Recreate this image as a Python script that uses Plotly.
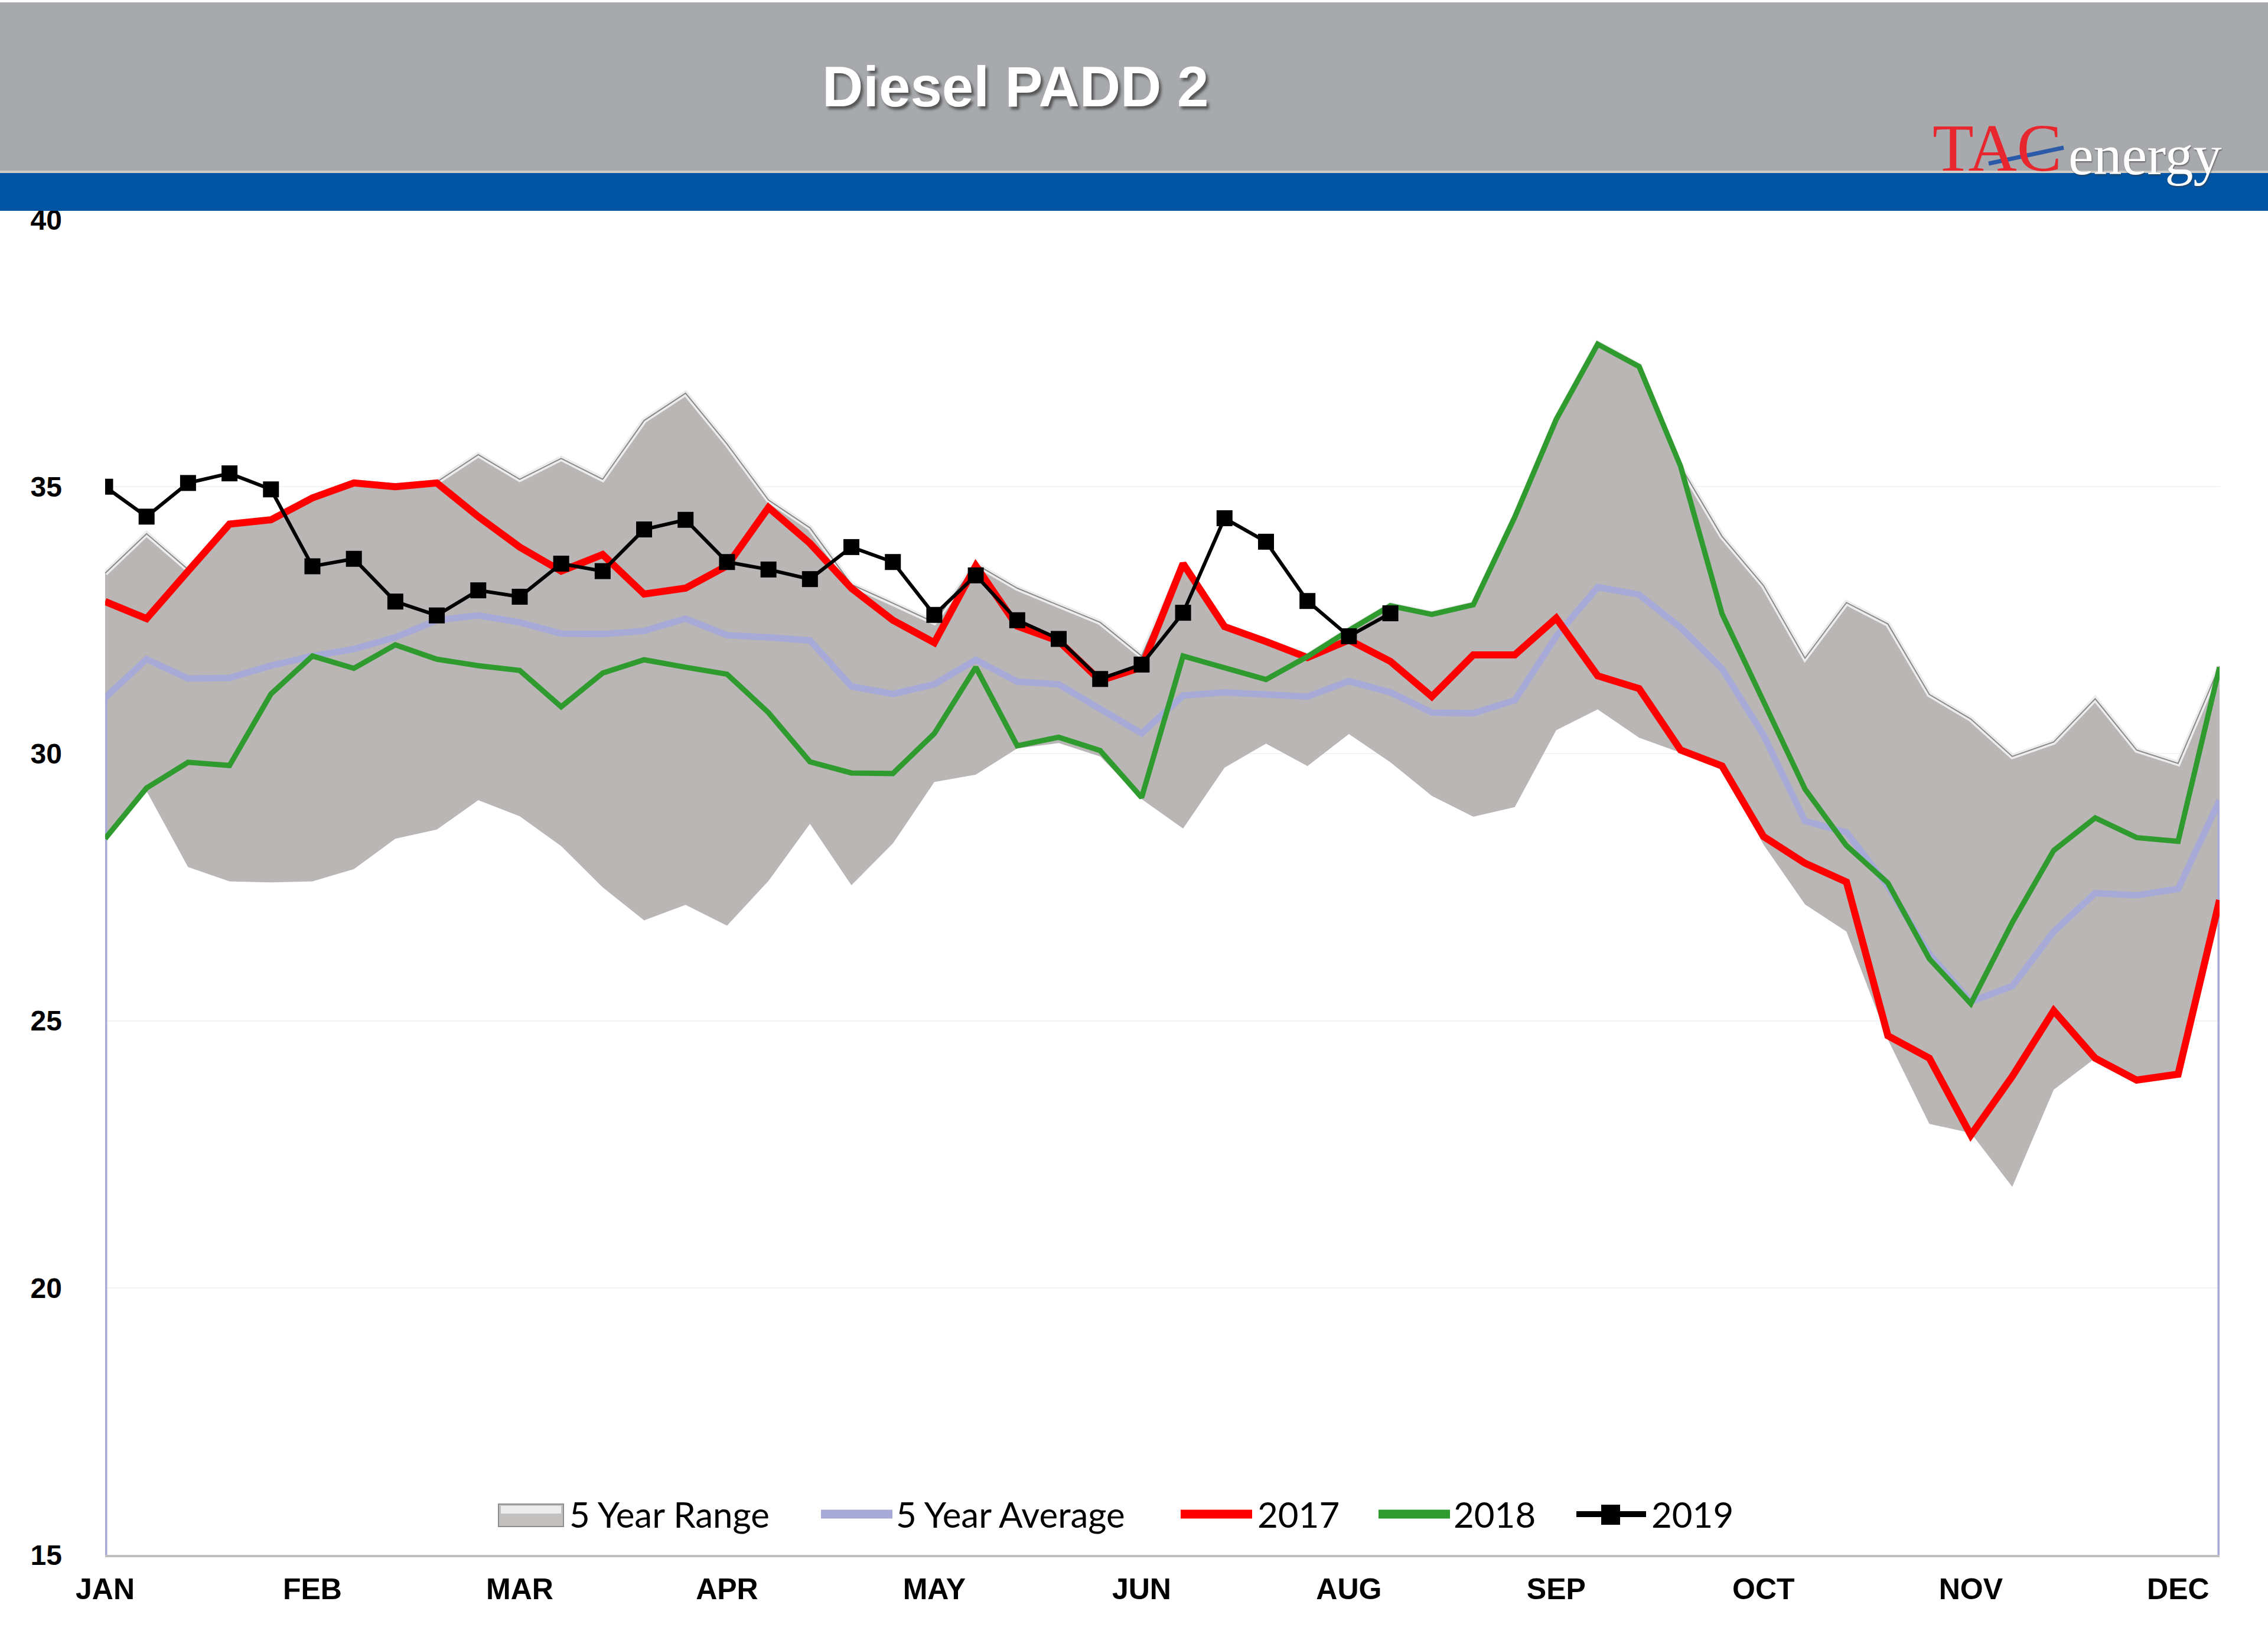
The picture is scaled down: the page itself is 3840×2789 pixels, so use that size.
"""Diesel PADD 2 seasonal chart (TAC energy style)."""

import plotly.graph_objects as go

# ---- data -----------------------------------------------------------------
WEEKS = list(range(52))
TICK_WEEKS = [0, 5, 10, 15, 20, 25, 30, 35, 40, 45, 50]
TICK_LABELS = ["JAN", "FEB", "MAR", "APR", "MAY", "JUN", "AUG", "SEP", "OCT", "NOV", "DEC"]
Y_TICKS = [15, 20, 25, 30, 35, 40]

range_low = [
    28.41, 29.30, 27.88, 27.61, 27.59, 27.61, 27.84, 28.41, 28.58, 29.13,
    28.83, 28.27, 27.50, 26.88, 27.17, 26.78, 27.62, 28.69, 27.54, 28.32,
    29.47, 29.61, 30.10, 30.20, 29.95, 29.15, 28.60, 29.74, 30.19, 29.77,
    30.37, 29.84, 29.21, 28.82, 29.00, 30.44, 30.83, 30.30, 30.02, 29.75,
    28.30, 27.18, 26.67, 24.65, 23.07, 22.90, 21.89, 23.71, 24.30, 23.89,
    24.00, 27.26,
]
range_high = [
    33.38, 34.12, 33.45, 34.32, 34.40, 34.81, 35.09, 35.02, 35.09, 35.60,
    35.14, 35.53, 35.14, 36.24, 36.75, 35.80, 34.75, 34.23, 33.17, 32.82,
    32.46, 33.55, 33.10, 32.78, 32.46, 31.83, 33.58, 32.40, 32.12, 31.84,
    32.33, 32.79, 32.63, 32.81, 34.45, 36.28, 37.69, 37.27, 35.38, 34.07,
    33.15, 31.79, 32.83, 32.43, 31.11, 30.65, 29.95, 30.22, 31.03, 30.07,
    29.82, 31.64,
]
avg_5yr = [
    31.05, 31.77, 31.41, 31.42, 31.65, 31.83, 31.96, 32.18, 32.50, 32.59,
    32.46, 32.25, 32.24, 32.30, 32.53, 32.22, 32.18, 32.12, 31.26, 31.12,
    31.30, 31.76, 31.35, 31.30, 30.84, 30.38, 31.09, 31.15, 31.11, 31.07,
    31.36, 31.15, 30.77, 30.76, 31.00, 32.20, 33.12, 32.98, 32.36, 31.59,
    30.35, 28.74, 28.53, 27.52, 26.25, 25.36, 25.65, 26.67, 27.39, 27.35,
    27.47, 29.13,
]
y2017 = [
    32.85, 32.53, 33.42, 34.30, 34.38, 34.79, 35.07, 35.00, 35.07, 34.44,
    33.87, 33.42, 33.73, 32.99, 33.10, 33.52, 34.61, 33.94, 33.10, 32.50,
    32.08, 33.52, 32.39, 32.11, 31.37, 31.62, 33.56, 32.38, 32.10, 31.80,
    32.13, 31.73, 31.07, 31.85, 31.85, 32.54, 31.46, 31.22, 30.07, 29.77,
    28.45, 27.95, 27.60, 24.72, 24.30, 22.86, 23.96, 25.19, 24.30, 23.89,
    24.00, 27.26,
]
y2018 = [
    28.41, 29.36, 29.84, 29.78, 31.12, 31.83, 31.60, 32.04, 31.77, 31.65,
    31.56, 30.88, 31.51, 31.76, 31.62, 31.49, 30.77, 29.85, 29.64, 29.63,
    30.38, 31.62, 30.15, 30.31, 30.06, 29.18, 31.83, 31.60, 31.39, 31.82,
    32.31, 32.77, 32.61, 32.79, 34.43, 36.26, 37.67, 37.25, 35.38, 32.62,
    31.00, 29.34, 28.28, 27.58, 26.16, 25.32, 26.84, 28.19, 28.80, 28.43,
    28.36, 31.62,
]
y2019 = [
    35.00, 34.44, 35.07, 35.25, 34.95, 33.51, 33.65, 32.85, 32.59, 33.06,
    32.94, 33.56, 33.42, 34.20, 34.38, 33.59, 33.45, 33.27, 33.87, 33.59,
    32.60, 33.34, 32.50, 32.15, 31.40, 31.67, 32.64, 34.41, 33.97, 32.86,
    32.20, 32.63,
]

# ---- style ----------------------------------------------------------------
W, H = 3840, 2789
PLOT_L, PLOT_R, PLOT_T, PLOT_B = 178, 3758, 372, 2633
Y_MIN, Y_MAX = 15, 40

RANGE_FILL = "#B9B6B5"
AVG_COLOR = "#A7AAD7"
RED = "#FF0000"
GREEN = "#2F9B2F"
HEADER_GRAY = "#A7A9AC"
HEADER_BLUE = "#0054A4"
SANS = "Liberation Sans, Arial, sans-serif"
SERIF = "Liberation Serif, Times New Roman, serif"
LEGEND_FONT = dict(family="Lato, Open Sans, sans-serif", size=60, color="black")


def px_x(x):
    return (x - PLOT_L) / (PLOT_R - PLOT_L)


def px_y(y):
    return (PLOT_B - y) / (PLOT_B - PLOT_T)


fig = go.Figure()

# 5 year range band
fig.add_trace(go.Scatter(
    x=WEEKS, y=range_low, mode="lines", line=dict(width=0, color=RANGE_FILL),
    showlegend=False, hoverinfo="skip",
))
fig.add_trace(go.Scatter(
    x=WEEKS, y=range_high, mode="lines", fill="tonexty", fillcolor=RANGE_FILL,
    line=dict(color="#ECECEC", width=9), name="5 Year Range",
))
fig.add_trace(go.Scatter(
    x=WEEKS, y=range_high, mode="lines", line=dict(color="#8A8A8A", width=2),
    showlegend=False, hoverinfo="skip",
))

# 5 year average, with the area-style drops to the axis at both ends
fig.add_trace(go.Scatter(
    x=[WEEKS[0], WEEKS[0]], y=[Y_MIN, avg_5yr[0]], mode="lines",
    line=dict(color=AVG_COLOR, width=7), showlegend=False, hoverinfo="skip",
))
fig.add_trace(go.Scatter(
    x=[WEEKS[-1], WEEKS[-1]], y=[avg_5yr[-1], Y_MIN], mode="lines",
    line=dict(color=AVG_COLOR, width=7), showlegend=False, hoverinfo="skip",
))
fig.add_trace(go.Scatter(
    x=WEEKS, y=avg_5yr, mode="lines", name="5 Year Average",
    line=dict(color=AVG_COLOR, width=11),
))

fig.add_trace(go.Scatter(
    x=WEEKS, y=y2017, mode="lines", name="2017", line=dict(color=RED, width=12),
))
fig.add_trace(go.Scatter(
    x=WEEKS, y=y2018, mode="lines", name="2018", line=dict(color=GREEN, width=9),
))
fig.add_trace(go.Scatter(
    x=WEEKS[:len(y2019)], y=y2019, mode="lines+markers", name="2019",
    line=dict(color="black", width=6),
    marker=dict(symbol="square", size=27, color="black"),
))

# header: gray band, blue stripe, title and logo
fig.add_shape(type="rect", xref="paper", yref="paper",
              x0=px_x(0), x1=px_x(W), y0=px_y(292), y1=px_y(4),
              fillcolor=HEADER_GRAY, line=dict(width=0), layer="above")
fig.add_shape(type="rect", xref="paper", yref="paper",
              x0=px_x(0), x1=px_x(W), y0=px_y(357), y1=px_y(292),
              fillcolor=HEADER_BLUE, line=dict(width=0), layer="above")
fig.add_shape(type="line", xref="paper", yref="paper",
              x0=px_x(0), x1=px_x(W), y0=px_y(291), y1=px_y(291),
              line=dict(color="#CFCBC6", width=4), layer="above")

fig.add_annotation(
    text="Diesel PADD 2", xref="paper", yref="paper",
    x=px_x(1719), y=px_y(147), xanchor="center", yanchor="middle", showarrow=False,
    font=dict(family=SANS, size=96, color="white", weight="bold",
              shadow="4px 5px 4px rgba(70,70,70,0.85)"),
)
fig.add_annotation(
    text="TAC", xref="paper", yref="paper",
    x=px_x(3270), y=px_y(250), xanchor="left", yanchor="middle", showarrow=False,
    font=dict(family=SERIF, size=114, color="#E8262D"),
)
fig.add_annotation(
    text="energy", xref="paper", yref="paper",
    x=px_x(3500), y=px_y(262), xanchor="left", yanchor="middle", showarrow=False,
    font=dict(family=SERIF, size=96, color="white",
              shadow="1px 2px 2px rgba(60,60,60,0.6)"),
)
fig.add_shape(type="line", xref="paper", yref="paper",
              x0=px_x(3367), x1=px_x(3494), y0=px_y(277), y1=px_y(250),
              line=dict(color="#2B5BA8", width=7), layer="above")

# legend, drawn by hand so the keys match the long Excel-style swatches
LEG_Y = 2564
fig.add_shape(type="rect", xref="paper", yref="paper",
              x0=px_x(844), x1=px_x(954), y0=px_y(2585), y1=px_y(2547),
              fillcolor="#C2C1C0", line=dict(color="#8C8C8C", width=2))
fig.add_shape(type="rect", xref="paper", yref="paper",
              x0=px_x(848), x1=px_x(950), y0=px_y(2563), y1=px_y(2550),
              fillcolor="#EDEDED", line=dict(width=0))
legend_lines = [
    (1390, 1511, AVG_COLOR, 15),
    (1999, 2120, RED, 15),
    (2334, 2455, GREEN, 15),
    (2669, 2787, "black", 10),
]
for x0, x1, color, width in legend_lines:
    fig.add_shape(type="line", xref="paper", yref="paper",
                  x0=px_x(x0), x1=px_x(x1), y0=px_y(LEG_Y), y1=px_y(LEG_Y),
                  line=dict(color=color, width=width))
fig.add_shape(type="rect", xref="paper", yref="paper",
              x0=px_x(2711), x1=px_x(2743), y0=px_y(2582), y1=px_y(2548),
              fillcolor="black", line=dict(width=0))
legend_texts = [
    (962, "5 Year Range"),
    (1515, "5 Year Average"),
    (2127, "2017"),
    (2459, "2018"),
    (2794, "2019"),
]
for x, label in legend_texts:
    fig.add_annotation(text=label, xref="paper", yref="paper", x=px_x(x), y=px_y(LEG_Y),
                       xanchor="left", yanchor="middle", showarrow=False,
                       font=LEGEND_FONT)

fig.update_layout(
    width=W, height=H,
    margin=dict(l=PLOT_L, r=W - PLOT_R, t=PLOT_T, b=H - PLOT_B),
    paper_bgcolor="white", plot_bgcolor="white",
    hovermode=False, showlegend=False,
)
fig.update_xaxes(
    range=[WEEKS[0], WEEKS[-1]], tickmode="array", tickvals=TICK_WEEKS, ticktext=TICK_LABELS,
    showgrid=False, zeroline=False, showline=True, linecolor="#BFBFBF", linewidth=4,
    ticks="", ticklabelstandoff=11,
    tickfont=dict(family=SANS, size=50, color="black", weight="bold"),
)
fig.update_yaxes(
    range=[Y_MIN, Y_MAX], tickmode="array", tickvals=Y_TICKS,
    showgrid=True, gridcolor="#F3F3F3", gridwidth=2, zeroline=False, showline=False,
    ticks="", ticklabelstandoff=72,
    tickfont=dict(family=SANS, size=48, color="black", weight="bold"),
)

# drop the default page margin so the header runs edge to edge
fig.write_html(
    "out.html",
    config={"displayModeBar": False},
    post_script="document.body.style.margin = '0';",
)
